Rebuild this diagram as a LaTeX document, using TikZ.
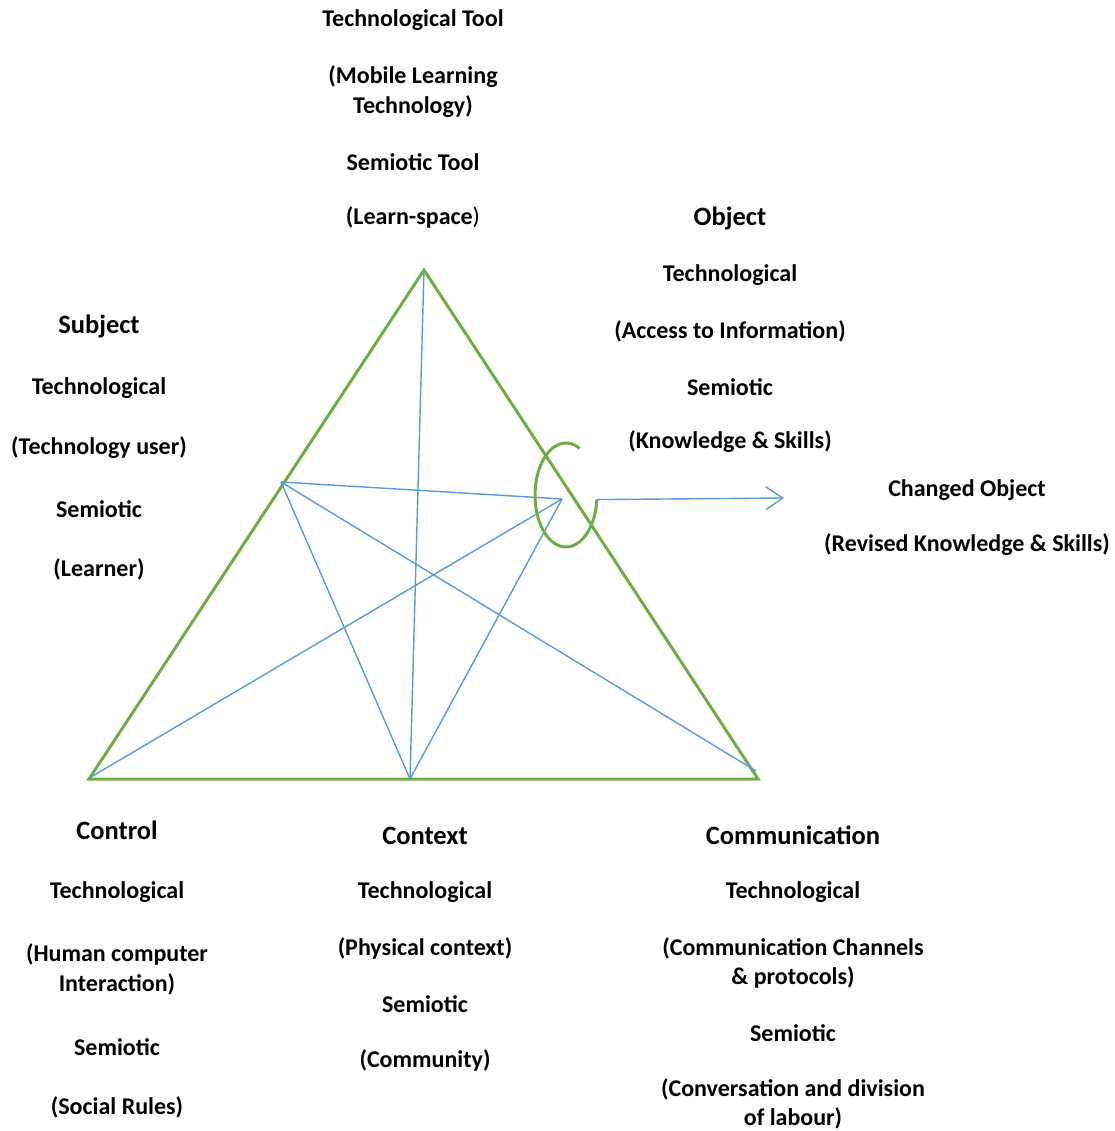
\documentclass[tikz,border=0pt]{standalone}
\usepackage{fontspec}
\setmainfont{Carlito}
\usetikzlibrary{arrows.meta}
\definecolor{tgreen}{HTML}{70AD47}
\definecolor{tblue}{HTML}{5B9BD5}
\begin{document}
\begin{tikzpicture}[x=1pt,y=-1pt,
  txt/.style={font=\bfseries\fontsize{24}{29.5}\selectfont, align=center, inner sep=0pt, yshift=-2pt},
  hd/.style={font=\bfseries\fontsize{26.5}{32}\selectfont, align=center, inner sep=0pt, yshift=-1.5pt},
  tri/.style={draw=tgreen, line width=3pt, line join=miter},
  link/.style={draw=tblue, line width=1.4pt},
  loopc/.style={draw=tgreen, line width=3pt}]
\useasboundingbox (0,0) rectangle (1114,1131);
% points
\coordinate (A) at (424,270);
\coordinate (BL) at (89,779);
\coordinate (BR) at (758,779);
\coordinate (M) at (410,779);
\coordinate (S) at (281,482);
\coordinate (O) at (562,499);
\coordinate (BRi) at (756,771);
\coordinate (BLi) at (91,777);
\coordinate (LS) at (579.6,448.3);
\coordinate (AT) at (784,498);
% triangle
\draw[tri] (A) -- (BR) -- (BL) -- cycle;
% blue links
\draw[link] (A) -- (M);
\draw[link] (S) -- (O);
\draw[link] (S) -- (M);
\draw[link] (S) -- (BRi);
\draw[link] (O) -- (BLi);
\draw[link] (O) -- (M);
% loop and arrow
\draw[loopc] (LS) arc[start angle=64, end angle=355, x radius=31pt, y radius=52pt] coordinate (LE);
\draw[link, -{Straight Barb[length=17pt,width=23pt,line width=1.4pt]}] (LE) -- (AT);
% top texts
\node[txt] (t1) at (413,18) {Technological Tool};
\node[txt] (t2) at (413,89.5) {(Mobile Learning\\Technology)};
\node[txt] (t3) at (413,160) {Semiotic Tool};
\node[txt] (t4) at (413,215) {(Learn-space{\mdseries)}};
% object
\node[hd] (o0) at (730,217) {Object};
\node[txt] (o1) at (730,273) {Technological};
\node[txt] (o2) at (730,329) {(Access to Information)};
\node[txt] (o3) at (730,385) {Semiotic};
\node[txt] (o4) at (730,440) {(Knowledge \& Skills)};
% subject
\node[hd] (s0) at (99,325) {Subject};
\node[txt] (s1) at (99,386) {Technological};
\node[txt] (s2) at (99,446) {(Technology user)};
\node[txt] (s3) at (99,507) {Semiotic};
\node[txt] (s4) at (99,567) {(Learner)};
% changed object
\node[txt] (c1) at (967,488) {Changed Object};
\node[txt] (c2) at (967,543) {(Revised Knowledge \& Skills)};
% control
\node[hd] (k0) at (117,829) {Control};
\node[txt] (k1) at (117,890) {Technological};
\node[txt] (k2) at (117,967.5) {(Human computer\\Interaction)};
\node[txt] (k3) at (117,1045) {Semiotic};
\node[txt] (k4) at (117,1105) {(Social Rules)};
% context
\node[hd] (x0) at (425,834) {Context};
\node[txt] (x1) at (425,890) {Technological};
\node[txt] (x2) at (425,946) {(Physical context)};
\node[txt] (x3) at (425,1002) {Semiotic};
\node[txt] (x4) at (425,1058) {(Community)};
% communication
\node[hd] (m0) at (793,834) {Communication};
\node[txt] (m1) at (793,890) {Technological};
\node[txt] (m2) at (793,961) {(Communication Channels\\\& protocols)};
\node[txt] (m3) at (793,1031) {Semiotic};
\node[txt] (m4) at (793,1102) {(Conversation and division\\of labour)};
\end{tikzpicture}
\end{document}
